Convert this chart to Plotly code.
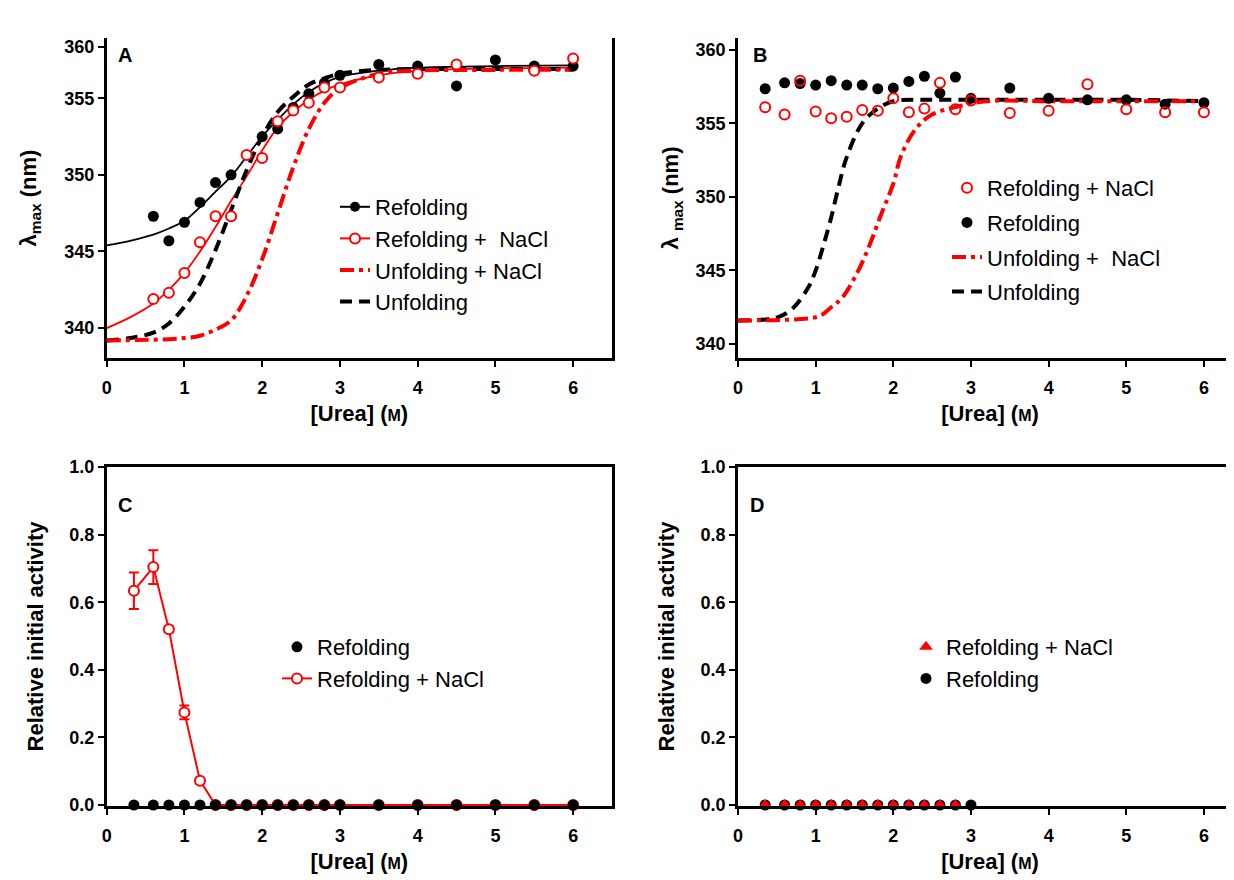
import plotly.graph_objects as go

# ---------------- Panel A data ----------------
A_ref_x = [0.6, 0.8, 1.0, 1.2, 1.4, 1.6, 2.0, 2.2, 2.4, 2.6, 2.8, 3.0, 3.5, 4.0, 4.5, 5.0, 5.5, 6.0]
A_ref_y = [347.3, 345.7, 346.9, 348.2, 349.5, 350.0, 352.5, 353.0, 354.4, 355.3, 356.0, 356.5, 357.2, 357.1, 355.8, 357.5, 357.1, 357.1]
A_refna_x = [0.6, 0.8, 1.0, 1.2, 1.4, 1.6, 1.8, 2.0, 2.2, 2.4, 2.6, 2.8, 3.0, 3.5, 4.0, 4.5, 5.5, 6.0]
A_refna_y = [341.9, 342.3, 343.6, 345.6, 347.3, 347.3, 351.3, 351.1, 353.5, 354.2, 354.7, 355.7, 355.7, 356.35, 356.6, 357.2, 356.8, 357.6]
# fitted curves
A_fit_ref_x = [0, 0.3, 0.6, 0.8, 1.0, 1.2, 1.4, 1.6, 1.8, 2.0, 2.2, 2.4, 2.6, 2.8, 3.0, 3.5, 4.0, 5.0, 6.0]
A_fit_ref_y = [345.4, 345.7, 346.1, 346.5, 347.0, 347.9, 348.9, 349.9, 351.2, 352.5, 353.6, 354.6, 355.4, 356.0, 356.4, 356.8, 357.0, 357.1, 357.15]
A_fit_refna_x = [0, 0.3, 0.6, 0.8, 1.0, 1.2, 1.4, 1.6, 1.8, 2.0, 2.2, 2.4, 2.6, 2.8, 3.0, 3.5, 4.0, 5.0, 6.0]
A_fit_refna_y = [340.0, 340.7, 341.6, 342.5, 343.6, 345.0, 346.6, 348.3, 349.9, 351.6, 353.1, 354.1, 354.9, 355.5, 355.9, 356.5, 356.8, 356.95, 357.0]
A_unf_x = [0, 0.3, 0.6, 0.8, 1.0, 1.2, 1.4, 1.6, 1.8, 2.0, 2.2, 2.4, 2.6, 2.8, 3.0, 3.5, 4.0, 5.0, 6.0]
A_unf_y = [339.2, 339.35, 339.7, 340.3, 341.4, 342.9, 345.1, 347.7, 350.3, 352.5, 354.1, 355.1, 355.9, 356.3, 356.6, 356.85, 356.9, 356.9, 356.9]
A_unfna_x = [0, 0.4, 0.8, 1.0, 1.2, 1.4, 1.6, 1.8, 2.0, 2.2, 2.4, 2.6, 2.8, 3.0, 3.5, 4.0, 5.0, 6.0]
A_unfna_y = [339.2, 339.22, 339.28, 339.35, 339.5, 339.9, 340.5, 342.1, 344.5, 347.5, 350.5, 353.0, 354.7, 355.65, 356.6, 356.8, 356.85, 356.85]
# y tick positions / labels of panel A as drawn (top label sits lower than a linear step)
A_tickvals = [340, 345, 350, 355, 358.35]
A_ticktext = ["340", "345", "350", "355", "360"]

# ---------------- Panel B data ----------------
B_x = [0.35, 0.6, 0.8, 1.0, 1.2, 1.4, 1.6, 1.8, 2.0, 2.2, 2.4, 2.6, 2.8, 3.0, 3.5, 4.0, 4.5, 5.0, 5.5, 6.0]
B_refna_y = [356.1, 355.6, 357.9, 355.8, 355.35, 355.45, 355.9, 355.85, 356.7, 355.75, 356.0, 357.75, 355.95, 356.55, 355.7, 355.85, 357.65, 355.95, 355.75, 355.75]
B_ref_y = [357.35, 357.75, 357.7, 357.6, 357.9, 357.6, 357.6, 357.35, 357.4, 357.85, 358.2, 357.05, 358.15, 356.7, 357.4, 356.7, 356.6, 356.6, 356.3, 356.4]
B_unf_x = [0, 0.5, 0.7, 0.9, 1.0, 1.1, 1.2, 1.3, 1.4, 1.6, 1.8, 2.0, 2.4, 3.0, 4.0, 5.0, 6.0]
B_unf_y = [341.6, 341.8, 342.4, 343.8, 345.0, 346.7, 348.6, 350.8, 352.7, 355.0, 356.0, 356.5, 356.6, 356.6, 356.6, 356.6, 356.5]
B_unfna_x = [0, 0.8, 1.05, 1.2, 1.35, 1.55, 1.7, 1.85, 2.0, 2.1, 2.3, 2.5, 2.8, 3.2, 4.0, 5.0, 6.0]
B_unfna_y = [341.6, 341.7, 341.9, 342.5, 343.2, 345.0, 346.8, 348.9, 350.9, 352.8, 354.7, 355.6, 356.1, 356.5, 356.5, 356.5, 356.5]
B_tickvals = [340, 345, 350, 355, 360]

# ---------------- Panel C data ----------------
C_x = [0.35, 0.6, 0.8, 1.0, 1.2, 1.4, 1.6, 1.8, 2.0, 2.2, 2.4, 2.6, 2.8, 3.0, 3.5, 4.0, 4.5, 5.0, 5.5, 6.0]
C_refna_y = [0.634, 0.704, 0.52, 0.274, 0.072, 0, 0, 0, 0, 0, 0, 0, 0, 0, 0, 0, 0, 0, 0, 0]
C_refna_err = [0.054, 0.05, 0.008, 0.02, 0.008, 0, 0, 0, 0, 0, 0, 0, 0, 0, 0, 0, 0, 0, 0, 0]
C_ref_y = [0] * 20

# ---------------- Panel D data ----------------
D_refna_x = [0.35, 0.6, 0.8, 1.0, 1.2, 1.4, 1.6, 1.8, 2.0, 2.2, 2.4, 2.6, 2.8]
D_refna_y = [0] * 13
D_ref_x = [0.35, 0.6, 0.8, 1.0, 1.2, 1.4, 1.6, 1.8, 2.0, 2.2, 2.4, 2.6, 2.8, 3.0]
D_ref_y = [0] * 14

X_tickvals = [0, 1, 2, 3, 4, 5, 6]
ACT_tickvals = [0, 0.2, 0.4, 0.6, 0.8, 1.0]

RED = "#ff0000"
BLK = "#000000"
FONT = "Liberation Sans, Arial, sans-serif"
DASH_BLACK = "12px,7px"
DASH_RED = "14px,5px,4px,5px"

fig = go.Figure()

# ---- Panel A ----
fig.add_trace(go.Scatter(x=A_fit_ref_x, y=A_fit_ref_y, mode="lines", line=dict(color=BLK, width=1.8, shape="spline"),
                         xaxis="x", yaxis="y", showlegend=False))
fig.add_trace(go.Scatter(x=A_fit_refna_x, y=A_fit_refna_y, mode="lines", line=dict(color=RED, width=1.8, shape="spline"),
                         xaxis="x", yaxis="y", showlegend=False))
fig.add_trace(go.Scatter(x=A_unf_x, y=A_unf_y, mode="lines", line=dict(color=BLK, width=4, dash=DASH_BLACK, shape="spline"),
                         xaxis="x", yaxis="y", showlegend=False))
fig.add_trace(go.Scatter(x=A_unfna_x, y=A_unfna_y, mode="lines", line=dict(color=RED, width=4, dash=DASH_RED, shape="spline"),
                         xaxis="x", yaxis="y", showlegend=False))
fig.add_trace(go.Scatter(x=A_ref_x, y=A_ref_y, mode="markers", marker=dict(color=BLK, size=11),
                         xaxis="x", yaxis="y", showlegend=False, cliponaxis=False))
fig.add_trace(go.Scatter(x=A_refna_x, y=A_refna_y, mode="markers",
                         marker=dict(color="white", size=10, line=dict(color=RED, width=2)),
                         xaxis="x", yaxis="y", showlegend=False, cliponaxis=False))
# legend entries for A
fig.add_trace(go.Scatter(x=[None], y=[None], mode="lines+markers", name="Refolding",
                         line=dict(color=BLK, width=2), marker=dict(color=BLK, size=10),
                         xaxis="x", yaxis="y", legend="legend"))
fig.add_trace(go.Scatter(x=[None], y=[None], mode="lines+markers", name="Refolding +  NaCl",
                         line=dict(color=RED, width=2), marker=dict(color="white", size=10, line=dict(color=RED, width=2)),
                         xaxis="x", yaxis="y", legend="legend"))
fig.add_trace(go.Scatter(x=[None], y=[None], mode="lines", name="Unfolding + NaCl",
                         line=dict(color=RED, width=4, dash=DASH_RED),
                         xaxis="x", yaxis="y", legend="legend"))
fig.add_trace(go.Scatter(x=[None], y=[None], mode="lines", name="Unfolding",
                         line=dict(color=BLK, width=4, dash=DASH_BLACK),
                         xaxis="x", yaxis="y", legend="legend"))

# ---- Panel B ----
fig.add_trace(go.Scatter(x=B_unf_x, y=B_unf_y, mode="lines", name="Unfolding", legendrank=4,
                         line=dict(color=BLK, width=4, dash=DASH_BLACK, shape="spline"),
                         xaxis="x2", yaxis="y2", legend="legend2", legendgroup="b4"))
fig.add_trace(go.Scatter(x=B_unfna_x, y=B_unfna_y, mode="lines", name="Unfolding +  NaCl", legendrank=3,
                         line=dict(color=RED, width=4, dash=DASH_RED, shape="spline"),
                         xaxis="x2", yaxis="y2", legend="legend2", legendgroup="b3"))
fig.add_trace(go.Scatter(x=B_x, y=B_ref_y, mode="markers", name="Refolding", legendrank=2,
                         marker=dict(color=BLK, size=11), cliponaxis=False,
                         xaxis="x2", yaxis="y2", legend="legend2", legendgroup="b2"))
fig.add_trace(go.Scatter(x=B_x, y=B_refna_y, mode="markers", name="Refolding + NaCl", legendrank=1,
                         marker=dict(color="rgba(0,0,0,0)", size=10, line=dict(color=RED, width=2)), cliponaxis=False,
                         xaxis="x2", yaxis="y2", legend="legend2", legendgroup="b1"))

# ---- Panel C ----
fig.add_trace(go.Scatter(x=C_x, y=C_refna_y, mode="lines+markers", name="Refolding + NaCl", legendrank=2,
                         line=dict(color=RED, width=2),
                         marker=dict(color="white", size=10, line=dict(color=RED, width=2)),
                         error_y=dict(type="data", array=C_refna_err, color=RED, thickness=2, width=5),
                         cliponaxis=False, xaxis="x3", yaxis="y3", legend="legend3"))
fig.add_trace(go.Scatter(x=C_x, y=C_ref_y, mode="markers", name="Refolding", legendrank=1,
                         marker=dict(color=BLK, size=11), cliponaxis=False,
                         xaxis="x3", yaxis="y3", legend="legend3"))

# ---- Panel D ----
fig.add_trace(go.Scatter(x=D_ref_x, y=D_ref_y, mode="markers", name="Refolding", legendrank=2,
                         marker=dict(color=BLK, size=11), cliponaxis=False,
                         xaxis="x4", yaxis="y4", legend="legend4"))
fig.add_trace(go.Scatter(x=D_refna_x, y=D_refna_y, mode="markers", name="Refolding + NaCl", legendrank=1,
                         marker=dict(color=RED, size=12, symbol="triangle-up"), cliponaxis=False,
                         xaxis="x4", yaxis="y4", legend="legend4"))

W, H = 1234, 880
OFF = 8  # page body margin
def px(x):
    return (x - OFF) / W
def py(y):
    return 1 - (y - OFF) / H

tickfont = dict(family=FONT, size=18, color=BLK, weight="bold")
titlefont = dict(family=FONT, size=22, color=BLK, weight="bold")
urea = "[Urea] (<span style='font-size:16px'>M</span>)"

def xax(domain, rng, anchor, mirror):
    return dict(domain=domain, range=rng, anchor=anchor, showline=True, linewidth=2.5, linecolor=BLK,
                mirror=mirror, ticks="outside", ticklen=6, tickwidth=2, tickcolor=BLK, showgrid=False,
                zeroline=False, tickmode="array", tickvals=X_tickvals, tickfont=tickfont,
                ticklabelstandoff=6, automargin=False, title=dict(text=urea, font=titlefont, standoff=9))

def yax(domain, rng, anchor, tickvals, ticktext, title, standoff, mirror):
    return dict(domain=domain, range=rng, anchor=anchor, showline=True, linewidth=2.5, linecolor=BLK,
                mirror=mirror, ticks="outside", ticklen=6, tickwidth=2, tickcolor=BLK, showgrid=False,
                zeroline=False, tickmode="array", tickvals=tickvals, ticktext=ticktext, tickfont=tickfont,
                automargin=False, title=dict(text=title, font=titlefont, standoff=standoff))

top_dom = [py(358), py(38)]
bot_dom = [py(806), py(467)]
left_dom = [px(106.7), px(612)]
right_dom = [px(738), 1.0]

legfont = dict(family=FONT, size=22, color=BLK)
act_text = ["0.0", "0.2", "0.4", "0.6", "0.8", "1.0"]
B_ticktext = [str(v) for v in B_tickvals]

fig.update_layout(
    width=W, height=H, margin=dict(l=0, r=0, t=0, b=0, autoexpand=False),
    paper_bgcolor="white", plot_bgcolor="white",
    font=dict(family=FONT, color=BLK),
    xaxis=xax(left_dom, [0, 6.5], "y", False),
    yaxis=yax(top_dom, [338.05, 358.93], "x", A_tickvals, A_ticktext, "λ<sub>max</sub> (nm)", 22, True),
    xaxis2=xax(right_dom, [0, 6.49], "y2", False),
    yaxis2=yax(top_dom, [339.05, 360.8], "x2", B_tickvals, B_ticktext, "λ <sub>max</sub> (nm)", 11, False),
    xaxis3=xax(left_dom, [0, 6.5], "y3", True),
    yaxis3=yax(bot_dom, [-0.003, 1.0], "x3", ACT_tickvals, act_text, "Relative initial activity", 20, True),
    xaxis4=xax(right_dom, [0, 6.49], "y4", True),
    yaxis4=yax(bot_dom, [-0.003, 1.0], "x4", ACT_tickvals, act_text, "Relative initial activity", 20, True),
    legend=dict(x=px(335), y=py(186), xanchor="left", yanchor="top", font=legfont, bgcolor="rgba(0,0,0,0)",
                tracegroupgap=0),
    legend2=dict(x=px(947), y=py(167), xanchor="left", yanchor="top", font=legfont, bgcolor="rgba(0,0,0,0)",
                 traceorder="grouped", tracegroupgap=3),
    legend3=dict(x=px(277), y=py(626), xanchor="left", yanchor="top", font=legfont, bgcolor="rgba(0,0,0,0)"),
    legend4=dict(x=px(906), y=py(626), xanchor="left", yanchor="top", font=legfont, bgcolor="rgba(0,0,0,0)"),
    annotations=[
        dict(text="<b>A</b>", x=px(125), y=py(55), xref="paper", yref="paper", showarrow=False,
             xanchor="center", yanchor="middle", font=dict(family=FONT, size=20, color=BLK)),
        dict(text="<b>B</b>", x=px(760), y=py(55), xref="paper", yref="paper", showarrow=False,
             xanchor="center", yanchor="middle", font=dict(family=FONT, size=20, color=BLK)),
        dict(text="<b>C</b>", x=px(125), y=py(505), xref="paper", yref="paper", showarrow=False,
             xanchor="center", yanchor="middle", font=dict(family=FONT, size=20, color=BLK)),
        dict(text="<b>D</b>", x=px(757), y=py(505), xref="paper", yref="paper", showarrow=False,
             xanchor="center", yanchor="middle", font=dict(family=FONT, size=20, color=BLK)),
    ],
)

fig.write_html("out.html")
